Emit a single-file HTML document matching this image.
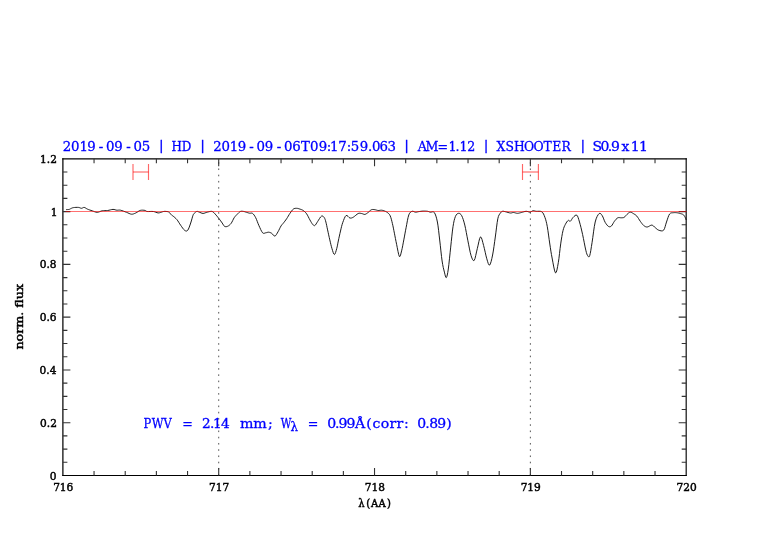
<!DOCTYPE html>
<html><head><meta charset="utf-8"><style>
html,body{margin:0;padding:0;background:#fff;}
body{width:782px;height:542px;overflow:hidden;}
svg{display:block;will-change:transform;}
.t{font-family:"DejaVu Serif","Liberation Serif",serif;fill:#000;stroke:#000;stroke-width:0.45px;}
.b{fill:#0000ff;stroke:#0000ff;stroke-width:0.3px;}
</style></head><body>
<svg width="782" height="542" viewBox="0 0 782 542">
<rect width="782" height="542" fill="#fff"/>
<g fill="none">
<path d="M218.71,158.83V475.50M530.36,158.83V475.50" stroke="#444" stroke-width="0.9" stroke-dasharray="1.6 4.64" stroke-dashoffset="2.88"/>
<path d="M66.00,209.60 L66.61,209.58 L67.49,209.56 L68.42,209.50 L69.20,209.40 L69.73,209.22 L70.14,208.99 L70.53,208.74 L71.00,208.50 L71.52,208.26 L72.06,208.01 L72.69,207.78 L73.50,207.60 L74.60,207.48 L75.91,207.39 L77.25,207.36 L78.40,207.40 L79.31,207.59 L80.09,207.89 L80.80,208.18 L81.50,208.30 L82.19,208.14 L82.83,207.79 L83.49,207.48 L84.20,207.40 L84.97,207.66 L85.78,208.14 L86.65,208.70 L87.60,209.20 L88.66,209.62 L89.80,210.02 L90.99,210.41 L92.20,210.80 L93.42,211.25 L94.67,211.74 L95.94,212.14 L97.20,212.30 L98.44,212.11 L99.68,211.66 L100.92,211.16 L102.20,210.80 L103.52,210.66 L104.88,210.63 L106.24,210.60 L107.60,210.50 L108.99,210.24 L110.40,209.88 L111.76,209.56 L113.00,209.40 L114.06,209.49 L115.01,209.73 L115.89,210.01 L116.80,210.20 L117.68,210.21 L118.51,210.12 L119.42,210.07 L120.50,210.20 L121.86,210.58 L123.42,211.13 L125.02,211.74 L126.50,212.30 L127.84,212.86 L129.11,213.46 L130.33,213.95 L131.50,214.20 L132.60,214.15 L133.62,213.88 L134.64,213.47 L135.70,213.00 L136.82,212.39 L137.97,211.62 L139.14,210.90 L140.30,210.40 L141.50,210.19 L142.74,210.17 L143.91,210.26 L144.90,210.40 L145.55,210.62 L145.95,210.95 L146.40,211.28 L147.20,211.50 L148.51,211.54 L150.16,211.48 L151.87,211.43 L153.40,211.50 L154.70,211.80 L155.90,212.24 L157.00,212.66 L158.00,212.90 L158.86,212.90 L159.59,212.74 L160.28,212.52 L161.00,212.30 L161.75,212.07 L162.49,211.79 L163.27,211.55 L164.10,211.40 L165.07,211.37 L166.15,211.43 L167.17,211.55 L168.00,211.70 L168.53,211.86 L168.85,212.06 L169.12,212.32 L169.50,212.70 L170.04,213.28 L170.66,214.01 L171.28,214.74 L171.80,215.30 L172.14,215.56 L172.36,215.64 L172.62,215.75 L173.10,216.10 L173.87,216.73 L174.84,217.54 L175.89,218.51 L176.90,219.60 L177.85,220.89 L178.79,222.36 L179.74,223.87 L180.70,225.30 L181.69,226.72 L182.69,228.16 L183.68,229.42 L184.60,230.30 L185.43,230.82 L186.21,231.07 L186.95,230.93 L187.70,230.30 L188.47,229.00 L189.25,227.13 L190.00,225.02 L190.70,223.00 L191.34,220.98 L191.94,218.84 L192.49,216.85 L193.00,215.30 L193.43,214.33 L193.80,213.77 L194.17,213.40 L194.60,213.00 L195.13,212.50 L195.71,212.01 L196.31,211.62 L196.90,211.40 L197.44,211.40 L197.96,211.57 L198.52,211.83 L199.20,212.10 L200.04,212.44 L201.01,212.86 L202.01,213.23 L203.00,213.40 L203.95,213.29 L204.89,212.99 L205.84,212.62 L206.80,212.30 L207.81,212.03 L208.84,211.75 L209.84,211.52 L210.70,211.40 L211.37,211.37 L211.91,211.40 L212.41,211.56 L213.00,211.90 L213.70,212.48 L214.45,213.24 L215.23,214.11 L216.00,215.00 L216.77,215.89 L217.54,216.83 L218.32,217.81 L219.10,218.80 L219.89,219.84 L220.70,220.93 L221.48,222.00 L222.20,223.00 L222.81,223.97 L223.35,224.91 L223.89,225.73 L224.50,226.30 L225.21,226.60 L225.97,226.69 L226.78,226.58 L227.60,226.30 L228.46,225.84 L229.35,225.21 L230.24,224.39 L231.10,223.40 L231.90,222.12 L232.68,220.59 L233.43,219.04 L234.20,217.70 L234.98,216.65 L235.76,215.76 L236.53,214.97 L237.30,214.20 L238.05,213.41 L238.80,212.64 L239.55,211.97 L240.30,211.50 L241.07,211.27 L241.84,211.23 L242.62,211.29 L243.40,211.40 L244.18,211.55 L244.95,211.79 L245.72,212.05 L246.50,212.30 L247.28,212.54 L248.06,212.79 L248.83,213.02 L249.60,213.20 L250.35,213.20 L251.10,213.09 L251.85,213.08 L252.60,213.40 L253.37,214.11 L254.14,215.09 L254.92,216.30 L255.70,217.70 L256.46,219.37 L257.21,221.30 L257.98,223.33 L258.80,225.30 L259.72,227.36 L260.70,229.53 L261.68,231.45 L262.60,232.80 L263.43,233.34 L264.20,233.31 L264.95,233.02 L265.70,232.80 L266.45,232.65 L267.20,232.43 L267.95,232.24 L268.70,232.20 L269.47,232.34 L270.24,232.59 L271.02,232.95 L271.80,233.40 L272.57,234.13 L273.35,235.09 L274.12,235.88 L274.90,236.10 L275.68,235.55 L276.46,234.48 L277.23,233.14 L278.00,231.80 L278.77,230.39 L279.55,228.81 L280.30,227.27 L281.00,226.00 L281.60,225.13 L282.13,224.51 L282.67,223.94 L283.30,223.20 L284.05,222.24 L284.88,221.17 L285.74,220.01 L286.60,218.80 L287.45,217.47 L288.30,216.04 L289.15,214.61 L290.00,213.30 L290.83,212.08 L291.66,210.91 L292.48,209.88 L293.30,209.10 L294.12,208.62 L294.95,208.39 L295.78,208.31 L296.60,208.30 L297.43,208.37 L298.25,208.56 L299.07,208.82 L299.90,209.10 L300.72,209.36 L301.54,209.64 L302.37,210.00 L303.20,210.50 L304.05,211.13 L304.90,211.86 L305.75,212.73 L306.60,213.80 L307.44,215.17 L308.29,216.78 L309.11,218.42 L309.90,219.90 L310.65,221.22 L311.37,222.46 L312.05,223.55 L312.70,224.40 L313.28,225.03 L313.81,225.48 L314.33,225.66 L314.90,225.50 L315.51,224.91 L316.14,223.96 L316.83,222.80 L317.60,221.60 L318.52,220.17 L319.54,218.51 L320.57,217.01 L321.50,216.10 L322.31,215.94 L323.04,216.28 L323.71,216.94 L324.30,217.70 L324.78,218.52 L325.17,219.51 L325.52,220.70 L325.90,222.10 L326.31,223.76 L326.71,225.65 L327.14,227.72 L327.60,229.90 L328.11,232.27 L328.67,234.84 L329.24,237.43 L329.80,239.90 L330.35,242.25 L330.89,244.56 L331.44,246.74 L332.00,248.70 L332.59,250.63 L333.19,252.51 L333.80,253.94 L334.40,254.50 L335.00,253.91 L335.60,252.44 L336.18,250.56 L336.70,248.70 L337.14,246.96 L337.51,245.11 L337.87,243.13 L338.30,241.00 L338.81,238.62 L339.36,236.04 L339.94,233.43 L340.50,231.00 L341.02,228.78 L341.52,226.68 L342.07,224.66 L342.70,222.70 L343.46,220.60 L344.30,218.42 L345.19,216.59 L346.10,215.50 L347.03,215.52 L348.00,216.35 L348.97,217.38 L349.90,218.00 L350.74,218.10 L351.53,217.99 L352.35,217.68 L353.30,217.20 L354.45,216.39 L355.75,215.30 L357.05,214.23 L358.20,213.50 L359.16,213.22 L360.00,213.21 L360.79,213.35 L361.60,213.50 L362.43,213.73 L363.26,214.07 L364.08,214.36 L364.90,214.40 L365.72,214.12 L366.55,213.62 L367.37,213.02 L368.20,212.40 L369.02,211.71 L369.84,210.92 L370.67,210.20 L371.50,209.70 L372.35,209.49 L373.20,209.48 L374.05,209.58 L374.90,209.70 L375.73,209.87 L376.56,210.12 L377.38,210.36 L378.20,210.50 L379.02,210.47 L379.85,210.34 L380.68,210.22 L381.50,210.20 L382.34,210.32 L383.18,210.53 L384.01,210.80 L384.80,211.10 L385.54,211.42 L386.24,211.76 L386.93,212.18 L387.60,212.70 L388.27,213.26 L388.94,213.87 L389.58,214.67 L390.20,215.80 L390.78,217.35 L391.34,219.24 L391.87,221.33 L392.40,223.50 L392.91,225.75 L393.40,228.14 L393.89,230.63 L394.40,233.20 L394.92,235.85 L395.45,238.59 L396.00,241.41 L396.60,244.30 L397.27,247.69 L398.00,251.44 L398.73,254.68 L399.40,256.50 L399.99,256.48 L400.54,255.15 L401.06,253.10 L401.60,250.90 L402.15,248.56 L402.69,245.81 L403.24,242.86 L403.80,239.90 L404.36,236.95 L404.92,233.91 L405.49,230.82 L406.10,227.70 L406.73,224.33 L407.39,220.76 L408.07,217.47 L408.80,214.90 L409.58,213.25 L410.41,212.24 L411.25,211.67 L412.10,211.30 L412.95,211.24 L413.80,211.56 L414.65,211.97 L415.50,212.20 L416.31,212.15 L417.09,211.99 L417.90,211.78 L418.80,211.60 L419.82,211.45 L420.93,211.30 L422.07,211.17 L423.20,211.10 L424.34,211.08 L425.50,211.11 L426.61,211.18 L427.60,211.30 L428.39,211.49 L429.03,211.74 L429.66,212.00 L430.40,212.20 L431.32,212.10 L432.33,211.81 L433.36,211.79 L434.30,212.50 L435.15,214.03 L435.95,216.14 L436.70,218.81 L437.40,222.00 L438.03,225.83 L438.59,230.28 L439.14,235.09 L439.70,240.00 L440.30,245.27 L440.90,250.93 L441.50,256.38 L442.10,261.00 L442.69,264.60 L443.28,267.52 L443.86,269.95 L444.40,272.10 L444.90,274.20 L445.37,276.08 L445.83,277.35 L446.30,277.60 L446.78,276.75 L447.27,275.01 L447.77,272.42 L448.30,269.00 L448.87,264.43 L449.48,258.79 L450.10,252.78 L450.70,247.10 L451.28,241.66 L451.85,236.17 L452.42,231.05 L453.00,226.70 L453.58,223.27 L454.15,220.52 L454.75,218.32 L455.40,216.50 L456.12,215.08 L456.90,214.11 L457.70,213.54 L458.50,213.30 L459.30,213.34 L460.10,213.71 L460.90,214.48 L461.70,215.70 L462.48,217.41 L463.26,219.57 L464.03,222.14 L464.80,225.10 L465.57,228.60 L466.34,232.61 L467.12,236.78 L467.90,240.80 L468.70,244.82 L469.50,248.94 L470.30,252.71 L471.10,255.70 L471.88,257.98 L472.66,259.72 L473.43,260.62 L474.20,260.40 L474.97,258.61 L475.74,255.52 L476.52,251.93 L477.30,248.60 L478.10,245.19 L478.90,241.47 L479.70,238.40 L480.50,236.90 L481.28,237.51 L482.05,239.64 L482.82,242.54 L483.60,245.50 L484.40,248.66 L485.22,252.29 L486.03,255.86 L486.80,258.80 L487.52,261.25 L488.21,263.41 L488.90,264.84 L489.60,265.10 L490.34,263.91 L491.11,261.57 L491.87,258.46 L492.60,255.00 L493.30,251.06 L493.98,246.51 L494.65,241.70 L495.30,237.00 L495.94,232.17 L496.57,227.12 L497.19,222.46 L497.80,218.80 L498.41,216.45 L499.01,215.04 L499.61,214.13 L500.20,213.30 L500.76,212.50 L501.30,211.93 L501.86,211.54 L502.50,211.30 L503.20,211.23 L503.95,211.35 L504.77,211.57 L505.70,211.80 L506.81,212.09 L508.06,212.46 L509.30,212.80 L510.40,213.00 L511.27,212.96 L512.00,212.78 L512.71,212.57 L513.50,212.50 L514.42,212.65 L515.39,212.92 L516.40,213.18 L517.40,213.30 L518.38,213.22 L519.35,213.03 L520.35,212.77 L521.40,212.50 L522.54,212.18 L523.76,211.80 L524.96,211.47 L526.10,211.30 L527.15,211.41 L528.15,211.71 L529.10,212.01 L530.00,212.10 L530.83,211.86 L531.59,211.41 L532.34,210.96 L533.10,210.70 L533.84,210.71 L534.55,210.88 L535.34,211.11 L536.30,211.30 L537.57,211.31 L539.06,211.24 L540.54,211.33 L541.80,211.80 L542.76,212.73 L543.54,213.99 L544.23,215.53 L544.90,217.30 L545.55,219.19 L546.14,221.26 L546.71,223.70 L547.30,226.70 L547.92,230.55 L548.56,235.06 L549.19,239.72 L549.80,244.00 L550.36,247.71 L550.89,251.15 L551.45,254.51 L552.10,258.00 L552.89,262.25 L553.77,266.96 L554.67,270.92 L555.50,272.90 L556.25,272.32 L556.96,269.91 L557.64,266.44 L558.30,262.70 L558.93,258.48 L559.53,253.49 L560.12,248.41 L560.70,243.90 L561.28,240.02 L561.85,236.47 L562.42,233.30 L563.00,230.60 L563.58,228.48 L564.17,226.86 L564.77,225.54 L565.40,224.30 L566.09,223.05 L566.81,221.91 L567.53,220.99 L568.20,220.40 L568.78,220.38 L569.30,220.80 L569.82,221.22 L570.40,221.20 L571.04,220.51 L571.71,219.43 L572.43,218.26 L573.20,217.30 L574.06,216.44 L575.01,215.58 L575.94,215.06 L576.80,215.20 L577.53,216.14 L578.18,217.69 L578.82,219.69 L579.50,222.00 L580.24,224.65 L581.02,227.69 L581.81,231.02 L582.60,234.50 L583.42,238.44 L584.27,242.79 L585.09,246.92 L585.80,250.20 L586.36,252.42 L586.82,253.93 L587.25,254.95 L587.70,255.70 L588.18,256.40 L588.67,256.88 L589.17,256.77 L589.70,255.70 L590.26,253.45 L590.83,250.27 L591.44,246.45 L592.10,242.30 L592.81,237.43 L593.56,231.84 L594.35,226.40 L595.20,222.00 L596.14,218.82 L597.15,216.41 L598.16,214.69 L599.10,213.60 L599.93,213.26 L600.71,213.65 L601.45,214.52 L602.20,215.60 L602.95,217.03 L603.68,218.87 L604.42,220.78 L605.20,222.40 L606.03,223.73 L606.91,224.91 L607.78,225.87 L608.60,226.50 L609.36,226.77 L610.08,226.74 L610.79,226.44 L611.50,225.90 L612.21,225.01 L612.92,223.78 L613.64,222.47 L614.40,221.30 L615.21,220.27 L616.06,219.26 L616.93,218.40 L617.80,217.80 L618.68,217.57 L619.58,217.61 L620.46,217.75 L621.30,217.80 L622.07,217.77 L622.79,217.73 L623.50,217.61 L624.20,217.30 L624.90,216.73 L625.58,215.96 L626.27,215.14 L627.00,214.40 L627.77,213.69 L628.58,212.98 L629.39,212.39 L630.20,212.10 L631.00,212.18 L631.79,212.55 L632.59,213.07 L633.40,213.60 L634.23,214.09 L635.08,214.62 L635.94,215.26 L636.80,216.10 L637.67,217.23 L638.55,218.59 L639.43,220.01 L640.30,221.30 L641.15,222.48 L642.00,223.63 L642.85,224.66 L643.70,225.50 L644.54,226.14 L645.38,226.63 L646.25,226.93 L647.20,227.00 L648.30,226.66 L649.51,225.99 L650.71,225.35 L651.80,225.10 L652.73,225.41 L653.57,226.07 L654.37,226.86 L655.20,227.60 L656.04,228.30 L656.86,229.06 L657.72,229.73 L658.70,230.20 L659.87,230.57 L661.19,230.88 L662.48,230.84 L663.60,230.20 L664.46,228.72 L665.16,226.60 L665.81,224.23 L666.50,222.00 L667.24,219.83 L667.99,217.57 L668.76,215.52 L669.60,214.00 L670.52,213.17 L671.51,212.84 L672.51,212.77 L673.50,212.70 L674.47,212.61 L675.44,212.62 L676.39,212.69 L677.30,212.80 L678.15,212.95 L678.97,213.14 L679.75,213.37 L680.50,213.60 L681.23,213.80 L681.94,214.00 L682.60,214.25 L683.20,214.60 L683.73,215.09 L684.19,215.67 L684.61,216.32 L685.00,217.00 L685.37,217.78 L685.71,218.65 L686.00,219.45 L686.20,220.00" stroke="#111" stroke-width="0.95" stroke-linejoin="round"/>
<path d="M62.3,158.83H686.75" stroke="#000" stroke-width="1.12"/>
<path d="M62.3,475.5H686.75" stroke="#000" stroke-width="1.05"/>
<path d="M62.89,158.3V476" stroke="#000" stroke-width="1.22"/>
<path d="M686.18,158.3V476" stroke="#000" stroke-width="1.14"/>
<path d="M94.05,475.50V471.00M94.05,158.83V163.33M125.22,475.50V471.00M125.22,158.83V163.33M156.38,475.50V471.00M156.38,158.83V163.33M187.55,475.50V471.00M187.55,158.83V163.33M218.71,475.50V468.00M218.71,158.83V166.33M249.88,475.50V471.00M249.88,158.83V163.33M281.04,475.50V471.00M281.04,158.83V163.33M312.21,475.50V471.00M312.21,158.83V163.33M343.37,475.50V471.00M343.37,158.83V163.33M374.53,475.50V468.00M374.53,158.83V166.33M405.70,475.50V471.00M405.70,158.83V163.33M436.86,475.50V471.00M436.86,158.83V163.33M468.03,475.50V471.00M468.03,158.83V163.33M499.19,475.50V471.00M499.19,158.83V163.33M530.36,475.50V468.00M530.36,158.83V166.33M561.52,475.50V471.00M561.52,158.83V163.33M592.69,475.50V471.00M592.69,158.83V163.33M623.85,475.50V471.00M623.85,158.83V163.33M655.02,475.50V471.00M655.02,158.83V163.33M62.89,462.31H67.39M686.18,462.31H681.68M62.89,449.11H67.39M686.18,449.11H681.68M62.89,435.92H67.39M686.18,435.92H681.68M62.89,422.72H70.39M686.18,422.72H678.68M62.89,409.53H67.39M686.18,409.53H681.68M62.89,396.33H67.39M686.18,396.33H681.68M62.89,383.14H67.39M686.18,383.14H681.68M62.89,369.94H70.39M686.18,369.94H678.68M62.89,356.75H67.39M686.18,356.75H681.68M62.89,343.55H67.39M686.18,343.55H681.68M62.89,330.36H67.39M686.18,330.36H681.68M62.89,317.16H70.39M686.18,317.16H678.68M62.89,303.97H67.39M686.18,303.97H681.68M62.89,290.78H67.39M686.18,290.78H681.68M62.89,277.58H67.39M686.18,277.58H681.68M62.89,264.39H70.39M686.18,264.39H678.68M62.89,251.19H67.39M686.18,251.19H681.68M62.89,238.00H67.39M686.18,238.00H681.68M62.89,224.80H67.39M686.18,224.80H681.68M62.89,211.61H70.39M686.18,211.61H678.68M62.89,198.41H67.39M686.18,198.41H681.68M62.89,185.22H67.39M686.18,185.22H681.68M62.89,172.02H67.39M686.18,172.02H681.68" stroke="#333" stroke-width="1.1"/>
<path d="M65.6,211.5H686.6" stroke="#ff0000" stroke-opacity="0.56" stroke-width="1.05"/>
<g stroke="#ff0000" stroke-opacity="0.6" stroke-width="1.15"><path d="M133,164V180"/><path d="M148.5,164V180"/><path d="M133,172H148.5"/></g>
<g stroke="#ff0000" stroke-opacity="0.6" stroke-width="1.15"><path d="M522.5,164V180"/><path d="M538.4,164V180"/><path d="M522.5,172H538.4"/></g>
</g>
<g class="t"><text x="49.86" y="479.54" font-size="10.6">0</text><text x="40.05" y="426.76" font-size="10.6">0.2</text><text x="39.58" y="373.99" font-size="10.6">0.4</text><text x="39.68" y="321.21" font-size="10.6">0.6</text><text x="39.73" y="268.43" font-size="10.6">0.8</text><text x="50.65" y="215.73" font-size="10.6">1</text><text x="40.05" y="162.87" font-size="10.6">1.2</text><text x="53.13" y="490.80" font-size="10.6">716</text><text x="209.01" y="490.80" font-size="10.6">717</text><text x="364.81" y="490.80" font-size="10.6">718</text><text x="520.63" y="490.80" font-size="10.6">719</text><text x="676.45" y="490.80" font-size="10.6">720</text><text x="377.11 385.46 390.58 398.47 407.35" y="506.70" font-size="10.6" transform="scale(0.95,1)">λ(AA)</text><text x="-349.64" y="0.00" font-size="11" textLength="65.71" lengthAdjust="spacingAndGlyphs" transform="translate(23.2,0) rotate(-90)">norm. flux</text></g>
<g class="t b"><text x="62.74 71.03 79.41 87.28 98.79 105.98 114.33 126.29 133.58 141.81" y="150.70" font-size="13.3">2019-09-05</text><text x="190.66 201.90" y="150.70" font-size="13.3" transform="scale(0.9,1)">HD</text><text x="213.19 221.48 229.86 237.73 249.24 256.43 264.78 276.74 284.03 292.29 300.88 309.88 318.68 326.74 330.11 338.28 346.84 350.71 359.68 368.07 371.88 379.54 387.58" y="150.70" font-size="13.3">2019-09-06T09:17:59.063</text><text x="439.71 447.92 460.66 472.12 479.45 483.70 491.94" y="150.70" font-size="13.3" transform="scale(0.95,1)">AM=1.12</text><text x="533.99 543.55 552.71 563.47 573.79 584.39 593.91 603.84" y="150.70" font-size="13.3" transform="scale(0.93,1)">XSHOOTER</text><text x="564.24 571.87 578.73 581.87 591.80 600.67 608.58" y="150.70" font-size="13.3" transform="scale(1.05,1)">S0.9x11</text><text x="159.05" y="149.90" font-size="13.8">|</text><text x="200.25" y="149.90" font-size="13.8">|</text><text x="404.35" y="149.90" font-size="13.8">|</text><text x="483.85" y="149.90" font-size="13.8">|</text><text x="580.55" y="149.90" font-size="13.8">|</text><text x="166.81 176.41 190.06" y="427.65" font-size="13.3" transform="scale(0.86,1)">PWV</text><text x="191.82" y="427.65" font-size="13.3" transform="scale(0.95,1)">=</text><text x="196.23 203.89 206.78 214.65" y="427.65" font-size="13.3" transform="scale(1.03,1)">2.14</text><text x="224.21 236.64 250.51" y="427.65" font-size="13.3" transform="scale(1.07,1)">mm;</text><text x="359.82" y="427.65" font-size="13.3" transform="scale(0.78,1)">W</text><text x="305.76" y="430.60" font-size="12.5" transform="scale(0.95,1)">λ</text><text x="323.92" y="427.65" font-size="13.3" transform="scale(0.95,1)">=</text><text x="308.70 316.08 319.27 327.00 334.80 345.45 351.43 359.22 367.42 374.12 381.14" y="427.65" font-size="13.3" transform="scale(1.06,1)">0.99Å(corr:</text><text x="397.30 405.11 408.73 416.44 424.90" y="427.65" font-size="13.3" transform="scale(1.05,1)">0.89)</text></g>
</svg>
</body></html>
